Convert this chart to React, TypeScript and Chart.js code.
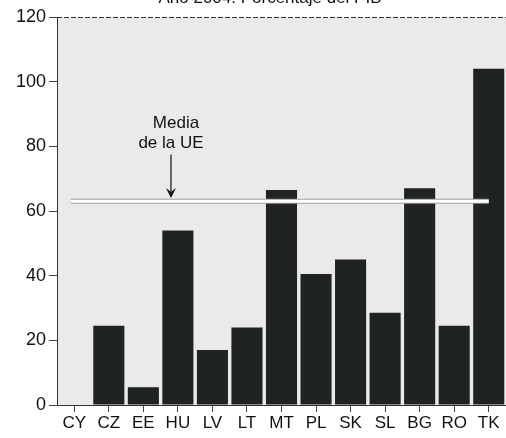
import React, { useEffect, useRef } from "react";
import { Chart, registerables } from "chart.js";

Chart.register(...registerables);

const categories = ["CY", "CZ", "EE", "HU", "LV", "LT", "MT", "PL", "SK", "SL", "BG", "RO", "TK"];
const values = [0, 24.5, 5.5, 54, 17, 24, 66.5, 40.5, 45, 28.5, 67, 24.5, 104];
const euMean = 63;
const yTicks = [0, 20, 40, 60, 80, 100, 120];
const titleText = "Año 2004. Porcentaje del PIB";
const annotationLines = ["Media", "de la UE"];

const FONT = "'Liberation Sans', Arial, Helvetica, sans-serif";

const decorPlugin = {
  id: "decor",
  beforeDraw(chart: any) {
    const { ctx, chartArea } = chart;
    ctx.save();
    ctx.fillStyle = "#eaeae9";
    ctx.fillRect(chartArea.left, chartArea.top, chartArea.right - chartArea.left, chartArea.bottom - chartArea.top);
    ctx.restore();
  },
  afterDatasetsDraw(chart: any) {
    const { ctx, chartArea, scales } = chart;
    const x = scales.x;
    const y = scales.y;
    ctx.save();
    // top dashed border
    ctx.strokeStyle = "#333";
    ctx.lineWidth = 1;
    ctx.setLineDash([5, 2]);
    ctx.beginPath();
    ctx.moveTo(chartArea.left, chartArea.top + 0.5);
    ctx.lineTo(chartArea.right, chartArea.top + 0.5);
    ctx.stroke();
    ctx.setLineDash([]);

    // EU mean line
    const ym = y.getPixelForValue(euMean);
    const x0 = x.getPixelForValue(-0.1);
    const x1 = x.getPixelForValue(categories.length - 1);
    ctx.strokeStyle = "#a0a0a0";
    ctx.lineWidth = 5;
    ctx.beginPath();
    ctx.moveTo(x0, ym);
    ctx.lineTo(x1, ym);
    ctx.stroke();
    ctx.strokeStyle = "#ffffff";
    ctx.lineWidth = 3;
    ctx.beginPath();
    ctx.moveTo(x0, ym);
    ctx.lineTo(x1, ym);
    ctx.stroke();

    // annotation
    const ax = x.getPixelForValue(2.8);
    ctx.fillStyle = "#111";
    ctx.font = `17px ${FONT}`;
    ctx.textAlign = "center";
    ctx.textBaseline = "middle";
    ctx.fillText(annotationLines[0], ax + 5, y.getPixelForValue(87.2));
    ctx.fillText(annotationLines[1], ax, y.getPixelForValue(81));
    const ay0 = y.getPixelForValue(77.5);
    const ay1 = y.getPixelForValue(euMean + 1);
    ctx.strokeStyle = "#111";
    ctx.lineWidth = 1.2;
    ctx.beginPath();
    ctx.moveTo(ax, ay0);
    ctx.lineTo(ax, ay1 - 4);
    ctx.stroke();
    ctx.beginPath();
    ctx.moveTo(ax - 5, ay1 - 10);
    ctx.lineTo(ax, ay1);
    ctx.lineTo(ax + 5, ay1 - 10);
    ctx.lineTo(ax, ay1 - 6);
    ctx.closePath();
    ctx.fill();

    // cut-off title
    ctx.font = `17px ${FONT}`;
    ctx.textAlign = "center";
    ctx.textBaseline = "alphabetic";
    ctx.fillText(titleText, 270, 3);
    ctx.restore();
  },
};

export default function App() {
  const ref = useRef<HTMLCanvasElement | null>(null);
  useEffect(() => {
    if (!ref.current) return;
    const chart = new Chart(ref.current, {
      type: "bar",
      data: {
        labels: categories,
        datasets: [
          {
            data: values,
            backgroundColor: "#1f2421",
            borderWidth: 0,
            barPercentage: 0.9,
            categoryPercentage: 1,
          },
        ],
      },
      options: {
        animation: false,
        responsive: false,
        maintainAspectRatio: false,
        layout: { padding: { top: 17, right: 0, left: 0, bottom: 0 } },
        plugins: { legend: { display: false }, tooltip: { enabled: false }, title: { display: false } },
        scales: {
          x: {
            grid: { drawOnChartArea: false, offset: false, tickLength: 7, color: "#444" },
            border: { color: "#333", dash: [5, 2] },
            ticks: { color: "#111", font: { family: FONT, size: 17 }, padding: 1, maxRotation: 0, autoSkip: false },
            afterFit(s: any) {
              s.height = 33;
            },
          },
          y: {
            min: 0,
            max: 120,
            afterBuildTicks(s: any) {
              s.ticks = yTicks.map((v) => ({ value: v }));
            },
            grid: { drawOnChartArea: false, tickLength: 8, color: "#444" },
            border: { color: "#333", dash: [5, 2] },
            ticks: { color: "#111", font: { family: FONT, size: 18 }, padding: 3 },
            afterFit(s: any) {
              s.width = 57;
            },
          },
        },
      },
      plugins: [decorPlugin],
    });
    return () => chart.destroy();
  }, []);
  return (
    <div style={{ position: "fixed", left: 0, top: 0, width: 506, height: 438, background: "#fff" }}>
      <canvas ref={ref} width={506} height={438} style={{ display: "block" }} />
    </div>
  );
}
